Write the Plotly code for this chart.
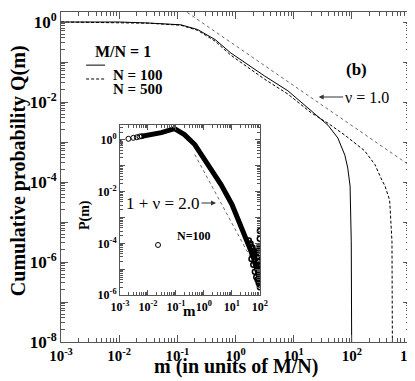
import plotly.graph_objects as go

# ---- main panel : cumulative probability Q(m), M/N = 1 ----
m_n100 = [0.001, 0.01, 0.0316, 0.115, 0.224, 0.447, 0.832, 1.62, 3.16, 7.94, 20.0, 38.9, 57.5, 75.9, 85.1, 93.3, 97.7, 100.0, 100.0]
q_n100 = [1.0, 1.0, 0.944, 0.851, 0.646, 0.363, 0.168, 0.0851, 0.0447, 0.0191, 0.00603, 0.00263, 0.00126,
          0.000468, 0.000224, 7.9e-5, 3.2e-6, 1e-7, 1e-9]

m_n500 = [0.001, 0.0316, 0.115, 0.224, 0.447, 0.832, 1.62, 3.16, 7.94, 20.0, 38.9, 75.9, 166.0, 251.0, 316.0,
          372.0, 447.0, 468.0, 490.0, 501.0]
q_n500 = [1.0, 0.933, 0.832, 0.617, 0.331, 0.148, 0.0741, 0.0372, 0.0158, 0.00537, 0.00295, 0.00148, 0.000603,
          0.000269, 0.000126, 7.9e-5, 3.5e-5, 1.26e-5, 3.2e-6, 1e-9]

# power law guide, nu = 1.0
m_nu = [0.1, 1000.0]
q_nu = [2.57, 0.000257]

# ---- inset : P(m), N = 100 ----
m_circ = [0.001, 0.002, 0.003, 0.004, 0.005, 0.006]
p_circ = [0.76, 1.1, 1.2, 1.26, 1.35, 1.38]

m_band = [0.006, 0.01, 0.03, 0.089, 0.2, 0.47, 1.38, 4.07, 10.0, 21.4, 31.6, 47.9, 60.0]
p_band = [1.38, 1.5, 1.9, 2.7, 1.6, 0.66, 0.11, 0.0186, 0.0032, 0.00039, 0.00016, 5e-5, 2.8e-5]

m_tail = [40, 44, 48, 52, 56, 60, 64, 68, 72, 76, 80, 84, 88, 92, 96, 100, 50, 58, 66, 74, 82, 90, 98, 100,
          100, 99, 97, 95, 93, 100, 86, 78, 70, 62, 54, 46, 94, 88, 84, 98]
p_tail = [1.3e-4, 9e-5, 7e-5, 5e-5, 4e-5, 3.2e-5, 2.5e-5, 2e-5, 1.6e-5, 1.3e-5, 1.1e-5, 9e-6, 7e-6, 6e-6, 5e-6,
          4e-6, 2.5e-5, 1.5e-5, 8e-6, 5e-6, 4e-6, 3e-6, 2.5e-6, 2e-6, 3e-4, 1.5e-4, 8e-5, 4e-5, 2e-5, 6e-5,
          5e-5, 3e-5, 4e-5, 5e-5, 7e-5, 1e-4, 1e-5, 1.4e-5, 2e-5, 3.5e-6]

# power law guide, 1 + nu = 2.0
m_nu2 = [0.47, 48.0]
p_nu2 = [0.272, 2.6e-5]

FONT = "Liberation Serif"
AXCOL = "#555555"


##################################################
def decade_labels(lo, hi, every=1):
	vals = [10.0 ** e for e in range(lo, hi + 1)]
	text = [f"<b>10<sup>{e}</sup></b>" if (e - lo) % every == 0 else "" for e in range(lo, hi + 1)]
	return vals, text


def minor_vals(lo, hi):
	return [k * 10.0 ** e for e in range(lo, hi) for k in range(2, 10)]


def text_note(x, y, text, size, xanchor="center", angle=0):
	fig.add_annotation(xref="paper", yref="paper", x=x, y=y, text=text, showarrow=False, xanchor=xanchor,
					   textangle=angle, font=dict(family=FONT, size=size, color="black"))


fig = go.Figure()

fig.add_trace(go.Scatter(x=m_nu, y=q_nu, mode="lines", line=dict(color="#666666", width=1, dash="dot")))
fig.add_trace(go.Scatter(x=m_n100, y=q_n100, mode="lines", line=dict(color="black", width=1)))
fig.add_trace(go.Scatter(x=m_n500, y=q_n500, mode="lines", line=dict(color="black", width=1, dash="3px,2px")))

fig.add_trace(go.Scatter(x=m_nu2, y=p_nu2, mode="lines", line=dict(color="#666666", width=1, dash="dot"),
						 xaxis="x2", yaxis="y2"))
fig.add_trace(go.Scatter(x=m_band, y=p_band, mode="lines", line=dict(color="black", width=5),
						 xaxis="x2", yaxis="y2"))
fig.add_trace(go.Scatter(x=m_circ, y=p_circ, mode="markers",
						 marker=dict(symbol="circle-open", size=5, color="black", line=dict(width=1)),
						 xaxis="x2", yaxis="y2"))
fig.add_trace(go.Scatter(x=m_tail, y=p_tail, mode="markers",
						 marker=dict(symbol="circle-open", size=5, color="black", line=dict(width=1.5)),
						 xaxis="x2", yaxis="y2"))

# main axes
xv, xt = decade_labels(-3, 3)
yv, yt = decade_labels(-8, 0, every=2)
axis_common = dict(type="log", showgrid=False, zeroline=False, showline=True, linecolor=AXCOL, linewidth=1,
				   mirror="ticks", ticks="inside", tickcolor=AXCOL, tickmode="array", automargin=False)
fig.update_layout(
	xaxis=dict(axis_common, range=[-3, 3], tickvals=xv, ticktext=xt, ticklen=7,
			   tickfont=dict(family=FONT, size=15, color="black"),
			   minor=dict(tickmode="array", tickvals=minor_vals(-3, 3), ticklen=4, ticks="inside", tickcolor=AXCOL)),
	yaxis=dict(axis_common, range=[-8, 0.25], tickvals=yv, ticktext=yt, ticklen=7,
			   tickfont=dict(family=FONT, size=17, color="black"),
			   minor=dict(tickmode="array", tickvals=minor_vals(-8, 1), ticklen=4, ticks="inside", tickcolor=AXCOL)),
)

# inset axes
xv2, xt2 = decade_labels(-3, 2)
yv2, yt2 = decade_labels(-6, 0, every=2)
fig.update_layout(
	xaxis2=dict(axis_common, domain=[0.169, 0.570], anchor="y2", range=[-3, 2], tickvals=xv2, ticktext=xt2,
				ticklen=5, tickfont=dict(family=FONT, size=12, color="black"),
				minor=dict(tickmode="array", tickvals=minor_vals(-3, 2), ticklen=3, ticks="inside", tickcolor=AXCOL)),
	yaxis2=dict(axis_common, domain=[0.142, 0.658], anchor="x2", range=[-6, 0.58], tickvals=yv2, ticktext=yt2,
				ticklen=5, tickfont=dict(family=FONT, size=12, color="black"),
				minor=dict(tickmode="array", tickvals=minor_vals(-6, 1), ticklen=3, ticks="inside", tickcolor=AXCOL)),
)

# axis titles (main and inset)
text_note(0.50, -0.114, "<b>m (in units of M/N)</b>", 20)
text_note(-0.121, 0.52, "<b>Cumulative probability Q(m)</b>", 20, angle=-90)
text_note(0.369, 0.064, "<b>m</b>", 15)
text_note(0.069, 0.385, "<b>P(m)</b>", 14, angle=-90)

# legend of the main panel, drawn by hand
text_note(0.178, 0.912, "<b>M/N = 1</b>", 16)
fig.add_shape(type="line", xref="paper", yref="paper", x0=0.072, x1=0.126, y0=0.839, y1=0.839,
			  line=dict(color="black", width=1))
fig.add_shape(type="line", xref="paper", yref="paper", x0=0.072, x1=0.126, y0=0.797, y1=0.797,
			  line=dict(color="black", width=1, dash="3px,2px"))
text_note(0.143, 0.839, "<b>N = 100</b>", 15, xanchor="left")
text_note(0.143, 0.797, "<b>N = 500</b>", 15, xanchor="left")
text_note(0.848, 0.861, "<b>(b)</b>", 17)

# guide labels with arrows
fig.add_annotation(xref="x", yref="y", x=1.43, y=-1.875, text="ν = 1.0", showarrow=True, ax=48, ay=0,
				   arrowhead=2, arrowsize=1, arrowwidth=1, arrowcolor="#333333",
				   font=dict(family=FONT, size=16, color="black"))
fig.add_annotation(xref="x2", yref="y2", x=0.43, y=-2.44, text="1 + ν = 2.0", showarrow=True, ax=-53, ay=0,
				   arrowhead=2, arrowsize=1, arrowwidth=1, arrowcolor="#333333",
				   font=dict(family=FONT, size=17, color="black"))

# inset legend
fig.add_shape(type="circle", xref="paper", yref="paper", xsizemode="pixel", ysizemode="pixel",
			  xanchor=0.278, yanchor=0.294, x0=-2.5, x1=2.5, y0=-2.5, y1=2.5, line=dict(color="black", width=1))
text_note(0.327, 0.294, "<b>N=100</b>", 12, xanchor="left")

fig.update_layout(width=415, height=381, margin=dict(l=53, r=13, t=4, b=47, autoexpand=False), showlegend=False,
				  paper_bgcolor="white", plot_bgcolor="white")

fig.write_html("out.html")
